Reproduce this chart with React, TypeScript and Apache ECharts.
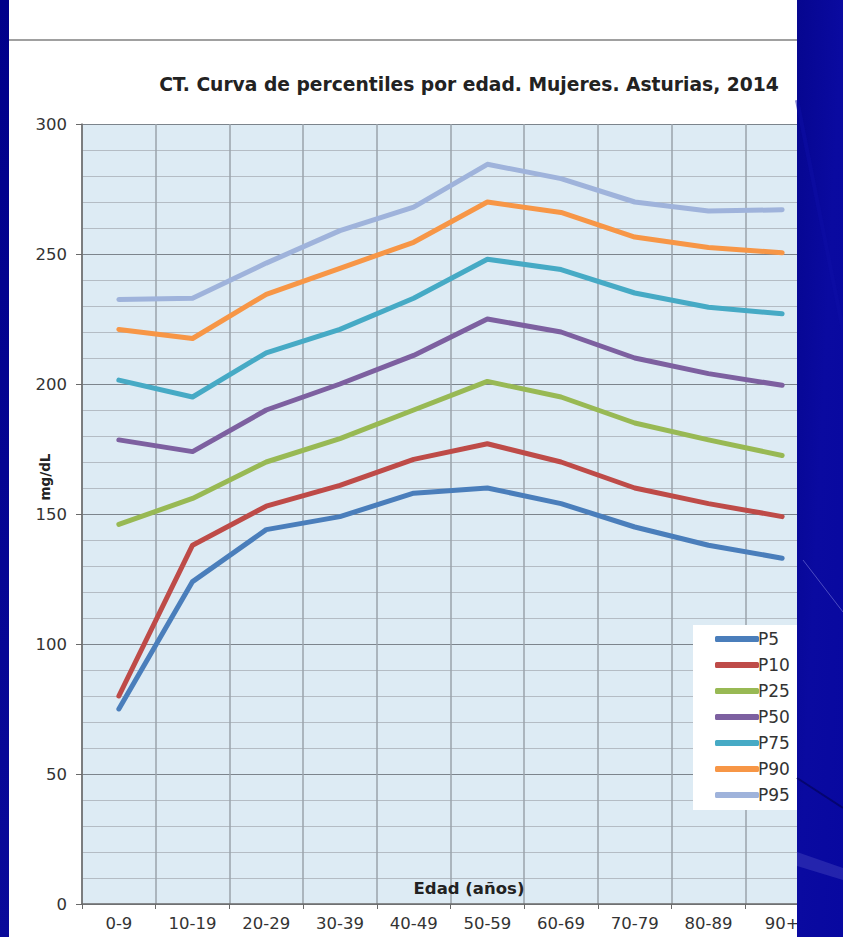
import React, { useEffect, useRef } from "react";
import * as echarts from "echarts";

const categories = ["0-9", "10-19", "20-29", "30-39", "40-49", "50-59", "60-69", "70-79", "80-89", "90+"];
const seriesNames = ["P5", "P10", "P25", "P50", "P75", "P90", "P95"];
const p5 = [75, 124, 144, 149, 158, 160, 154, 145, 138, 133];
const p10 = [80, 138, 153, 161, 171, 177, 170, 160, 154, 149];
const p25 = [146, 156, 170, 179, 190, 201, 195, 185, 178.5, 172.5];
const p50 = [178.5, 174, 190, 200, 211, 225, 220, 210, 204, 199.5];
const p75 = [201.5, 195, 212, 221, 233, 248, 244, 235, 229.5, 227];
const p90 = [221, 217.5, 234.5, 244.5, 254.5, 270, 266, 256.5, 252.5, 250.5];
const p95 = [232.5, 233, 246.5, 259, 268, 284.5, 279, 270, 266.5, 267];
const seriesValues = [p5, p10, p25, p50, p75, p90, p95];
const seriesColors = ["#4A7EBB", "#BE4B48", "#98B954", "#7D60A0", "#46AAC5", "#F79646", "#9FB3DB"];

const titleText = "CT. Curva de percentiles por edad. Mujeres. Asturias, 2014";
const yName = "mg/dL";
const xName = "Edad (años)";

export default function App() {
  const ref = useRef<HTMLDivElement>(null);
  useEffect(() => {
    if (!ref.current) return;
    const chart = echarts.init(ref.current, null, { renderer: "svg" });
    const font = "'DejaVu Sans', Verdana, sans-serif";
    chart.setOption({
      animation: false,
      backgroundColor: "#ffffff",
      textStyle: { fontFamily: font },
      grid: {
        left: 82,
        top: 124,
        width: 737,
        height: 780,
        show: true,
        backgroundColor: "#DDEBF4",
        borderWidth: 0,
      },
      xAxis: {
        type: "category",
        data: categories,
        boundaryGap: true,
        axisLine: { show: true, lineStyle: { color: "#6a6a6a", width: 1.5 } },
        axisTick: { show: true, length: 5, alignWithLabel: false, lineStyle: { color: "#6a6a6a" } },
        axisLabel: { color: "#333333", fontSize: 16.5, fontFamily: font, margin: 11 },
        splitLine: { show: true, interval: 0, lineStyle: { color: "#9aa3ab", width: 1.5 } },
      },
      yAxis: {
        type: "value",
        min: 0,
        max: 300,
        interval: 50,
        axisLine: { show: true, lineStyle: { color: "#6a6a6a", width: 1.5 } },
        axisTick: { show: true, length: 6, lineStyle: { color: "#6a6a6a" } },
        axisLabel: { color: "#333333", fontSize: 16.5, fontFamily: font, margin: 15 },
        splitLine: { show: true, lineStyle: { color: "#7c848c", width: 1.2 } },
        minorTick: { show: false, splitNumber: 5 },
        minorSplitLine: { show: true, lineStyle: { color: "#b4bcc4", width: 1.2 } },
      },
      legend: {
        orient: "vertical",
        left: 693,
        top: 625,
        width: 140,
        backgroundColor: "#ffffff",
        padding: [5, 40, 6, 22],
        itemGap: 8,
        itemWidth: 44,
        itemHeight: 6,
        icon: "roundRect",
        data: seriesNames,
        textStyle: { fontSize: 17, color: "#333", fontFamily: font, padding: [0, 0, 0, -6], lineHeight: 18 },
      },
      series: seriesNames.map((name, i) => ({
        name,
        type: "line",
        data: seriesValues[i],
        symbol: "none",
        lineStyle: { color: seriesColors[i], width: 5, cap: "round", join: "round" },
        itemStyle: { color: seriesColors[i] },
        z: 3,
      })),
      graphic: [
        {
          type: "text",
          z: 50,
          style: {
            text: titleText,
            x: 469,
            y: 84,
            textAlign: "center",
            textVerticalAlign: "middle",
            fill: "#222",
            font: `bold 18.7px ${font}`,
          },
        },
        {
          type: "text",
          z: 50,
          x: 45,
          y: 477,
          rotation: Math.PI / 2,
          style: {
            text: yName,
            textAlign: "center",
            textVerticalAlign: "middle",
            fill: "#222",
            font: `bold 13.5px ${font}`,
          },
        },
        {
          type: "text",
          z: 50,
          style: {
            text: xName,
            x: 469,
            y: 888,
            textAlign: "center",
            textVerticalAlign: "middle",
            fill: "#222",
            font: `bold 16.5px ${font}`,
          },
        },
        {
          type: "line",
          z: 50,
          shape: { x1: 9, y1: 40, x2: 797, y2: 40 },
          style: { stroke: "#a0a0a0", lineWidth: 2 },
        },
        {
          type: "rect",
          z: 100,
          shape: { x: 797, y: 0, width: 46, height: 937 },
          style: {
            fill: {
              type: "linear", x: 0, y: 0, x2: 1, y2: 1,
              colorStops: [
                { offset: 0, color: "#06068f" },
                { offset: 0.5, color: "#0a0aa0" },
                { offset: 1, color: "#0808a0" },
              ],
            },
          },
        },
        {
          type: "line",
          z: 101,
          shape: { x1: 797, y1: 100, x2: 843, y2: 330 },
          style: { stroke: "#0e0ea6", lineWidth: 4, opacity: 0.5 },
        },
        {
          type: "line",
          z: 101,
          shape: { x1: 803, y1: 560, x2: 843, y2: 612 },
          style: { stroke: "#6a6ad0", lineWidth: 1, opacity: 0.7 },
        },
        {
          type: "line",
          z: 101,
          shape: { x1: 797, y1: 778, x2: 843, y2: 808 },
          style: { stroke: "#050570", lineWidth: 2 },
        },
        {
          type: "polygon",
          z: 101,
          shape: { points: [[797, 852], [843, 868], [843, 880], [797, 866]] },
          style: { fill: "#3a3ab8", opacity: 0.55 },
        },
        {
          type: "rect",
          z: 100,
          shape: { x: 0, y: 0, width: 9, height: 937 },
          style: {
            fill: {
              type: "linear", x: 0, y: 0, x2: 0, y2: 1,
              colorStops: [
                { offset: 0, color: "#00008a" },
                { offset: 1, color: "#0a0a9a" },
              ],
            },
          },
        },
      ],
    });
    return () => chart.dispose();
  }, []);
  return (
    <div
      ref={ref}
      style={{ position: "fixed", left: 0, top: 0, width: 843, height: 937 }}
    />
  );
}
